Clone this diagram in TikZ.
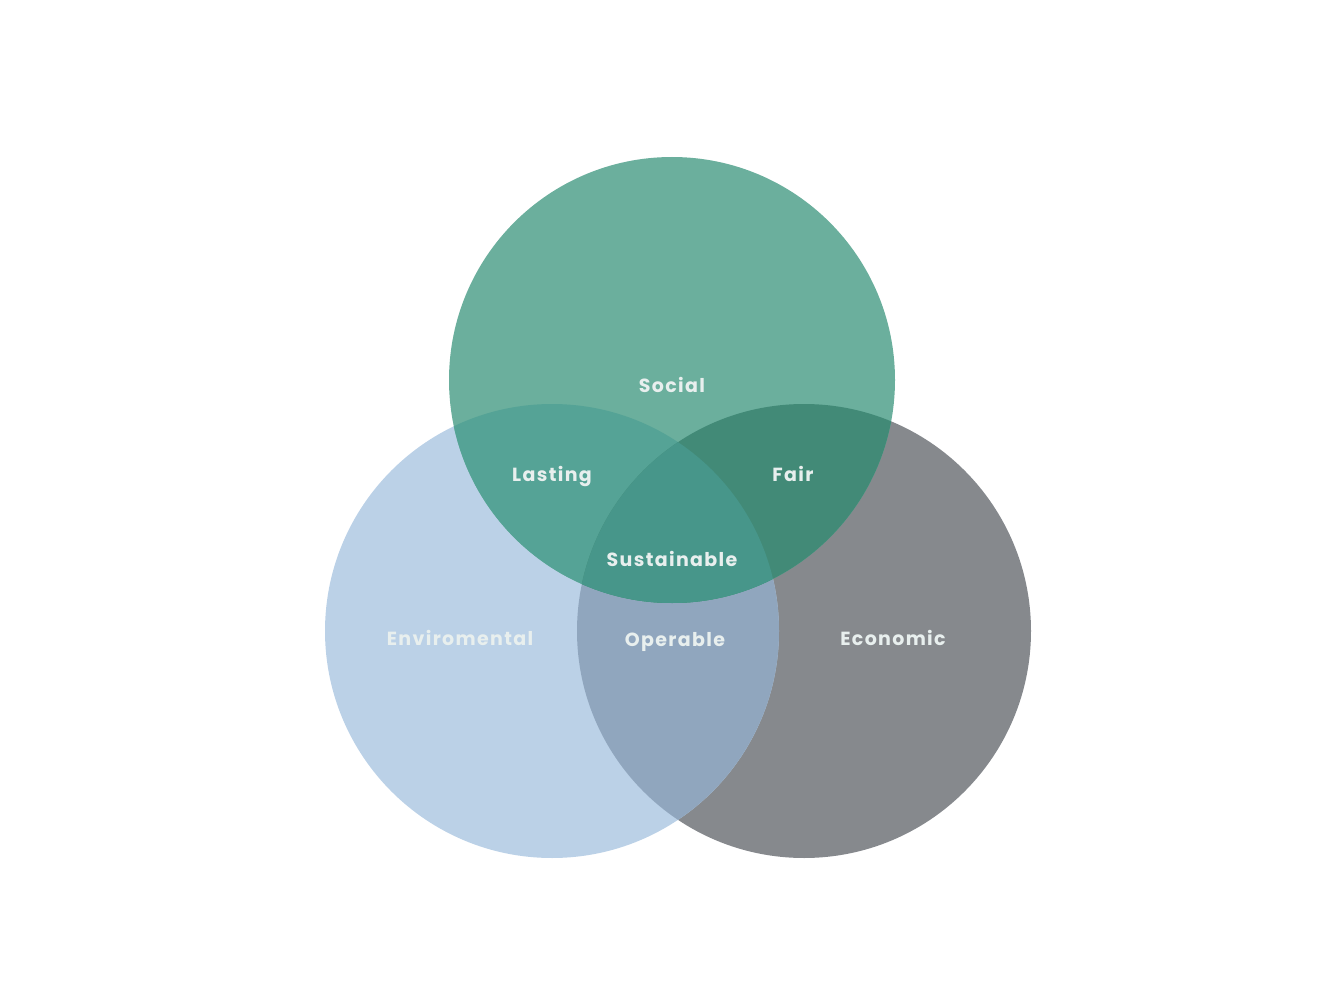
\documentclass[tikz,border=0pt]{standalone}
\usepackage{fontspec}
\newfontfamily\vennfont{Poppins}[LetterSpace=7]
\usepackage{tikz}
\usetikzlibrary{positioning}

\definecolor{socialc}{HTML}{6BAF9D}
\definecolor{envc}{HTML}{BBD1E7}
\definecolor{econc}{HTML}{86898D}
\definecolor{lastc}{HTML}{55A396}
\definecolor{fairc}{HTML}{428A77}
\definecolor{sustc}{HTML}{47968A}
\definecolor{operc}{HTML}{90A6BE}
\definecolor{labelc}{HTML}{E8EFEE}

\begin{document}
\begin{tikzpicture}[
            x=1pt, y=-1pt,
            lbl/.style={text=labelc, font=\vennfont\bfseries\fontsize{19}{22}\selectfont,
            inner sep=0pt, anchor=base}
        ]
\useasboundingbox (0,0) rectangle (1344,1008);
% circle centres
            \coordinate (soc) at (672,380);
            \coordinate (env) at (552,631);
            \coordinate (eco) at (804,631);
% base circles
            \fill[econc]  (eco) circle (227);
            \fill[envc]   (env) circle (227);
            \begin{scope}
                \clip (env) circle (227);
                \fill[operc] (eco) circle (227);
            \end{scope}
            \fill[socialc] (soc) circle (223);
% overlaps with social
            \begin{scope}
                \clip (soc) circle (223);
                \fill[lastc] (env) circle (227);
                \fill[fairc] (eco) circle (227);
                \clip (env) circle (227);
                \fill[sustc] (eco) circle (227);
            \end{scope}
% labels (placed on their baselines)
            \node[lbl] (social) at (672,392) {Social};
            \node[lbl] (lasting) at (552,481) {Lasting};
            \node[lbl] (fair) at (793,481) {Fair};
            \node[lbl] (sustainable) at (672,566) {Sustainable};
            \node[lbl] (enviromental) at (460,645) {Enviromental};
            \node[lbl] (operable) at (675,646) {Operable};
            \node[lbl] (economic) at (893,645) {Economic};
\end{tikzpicture}
\end{document}
